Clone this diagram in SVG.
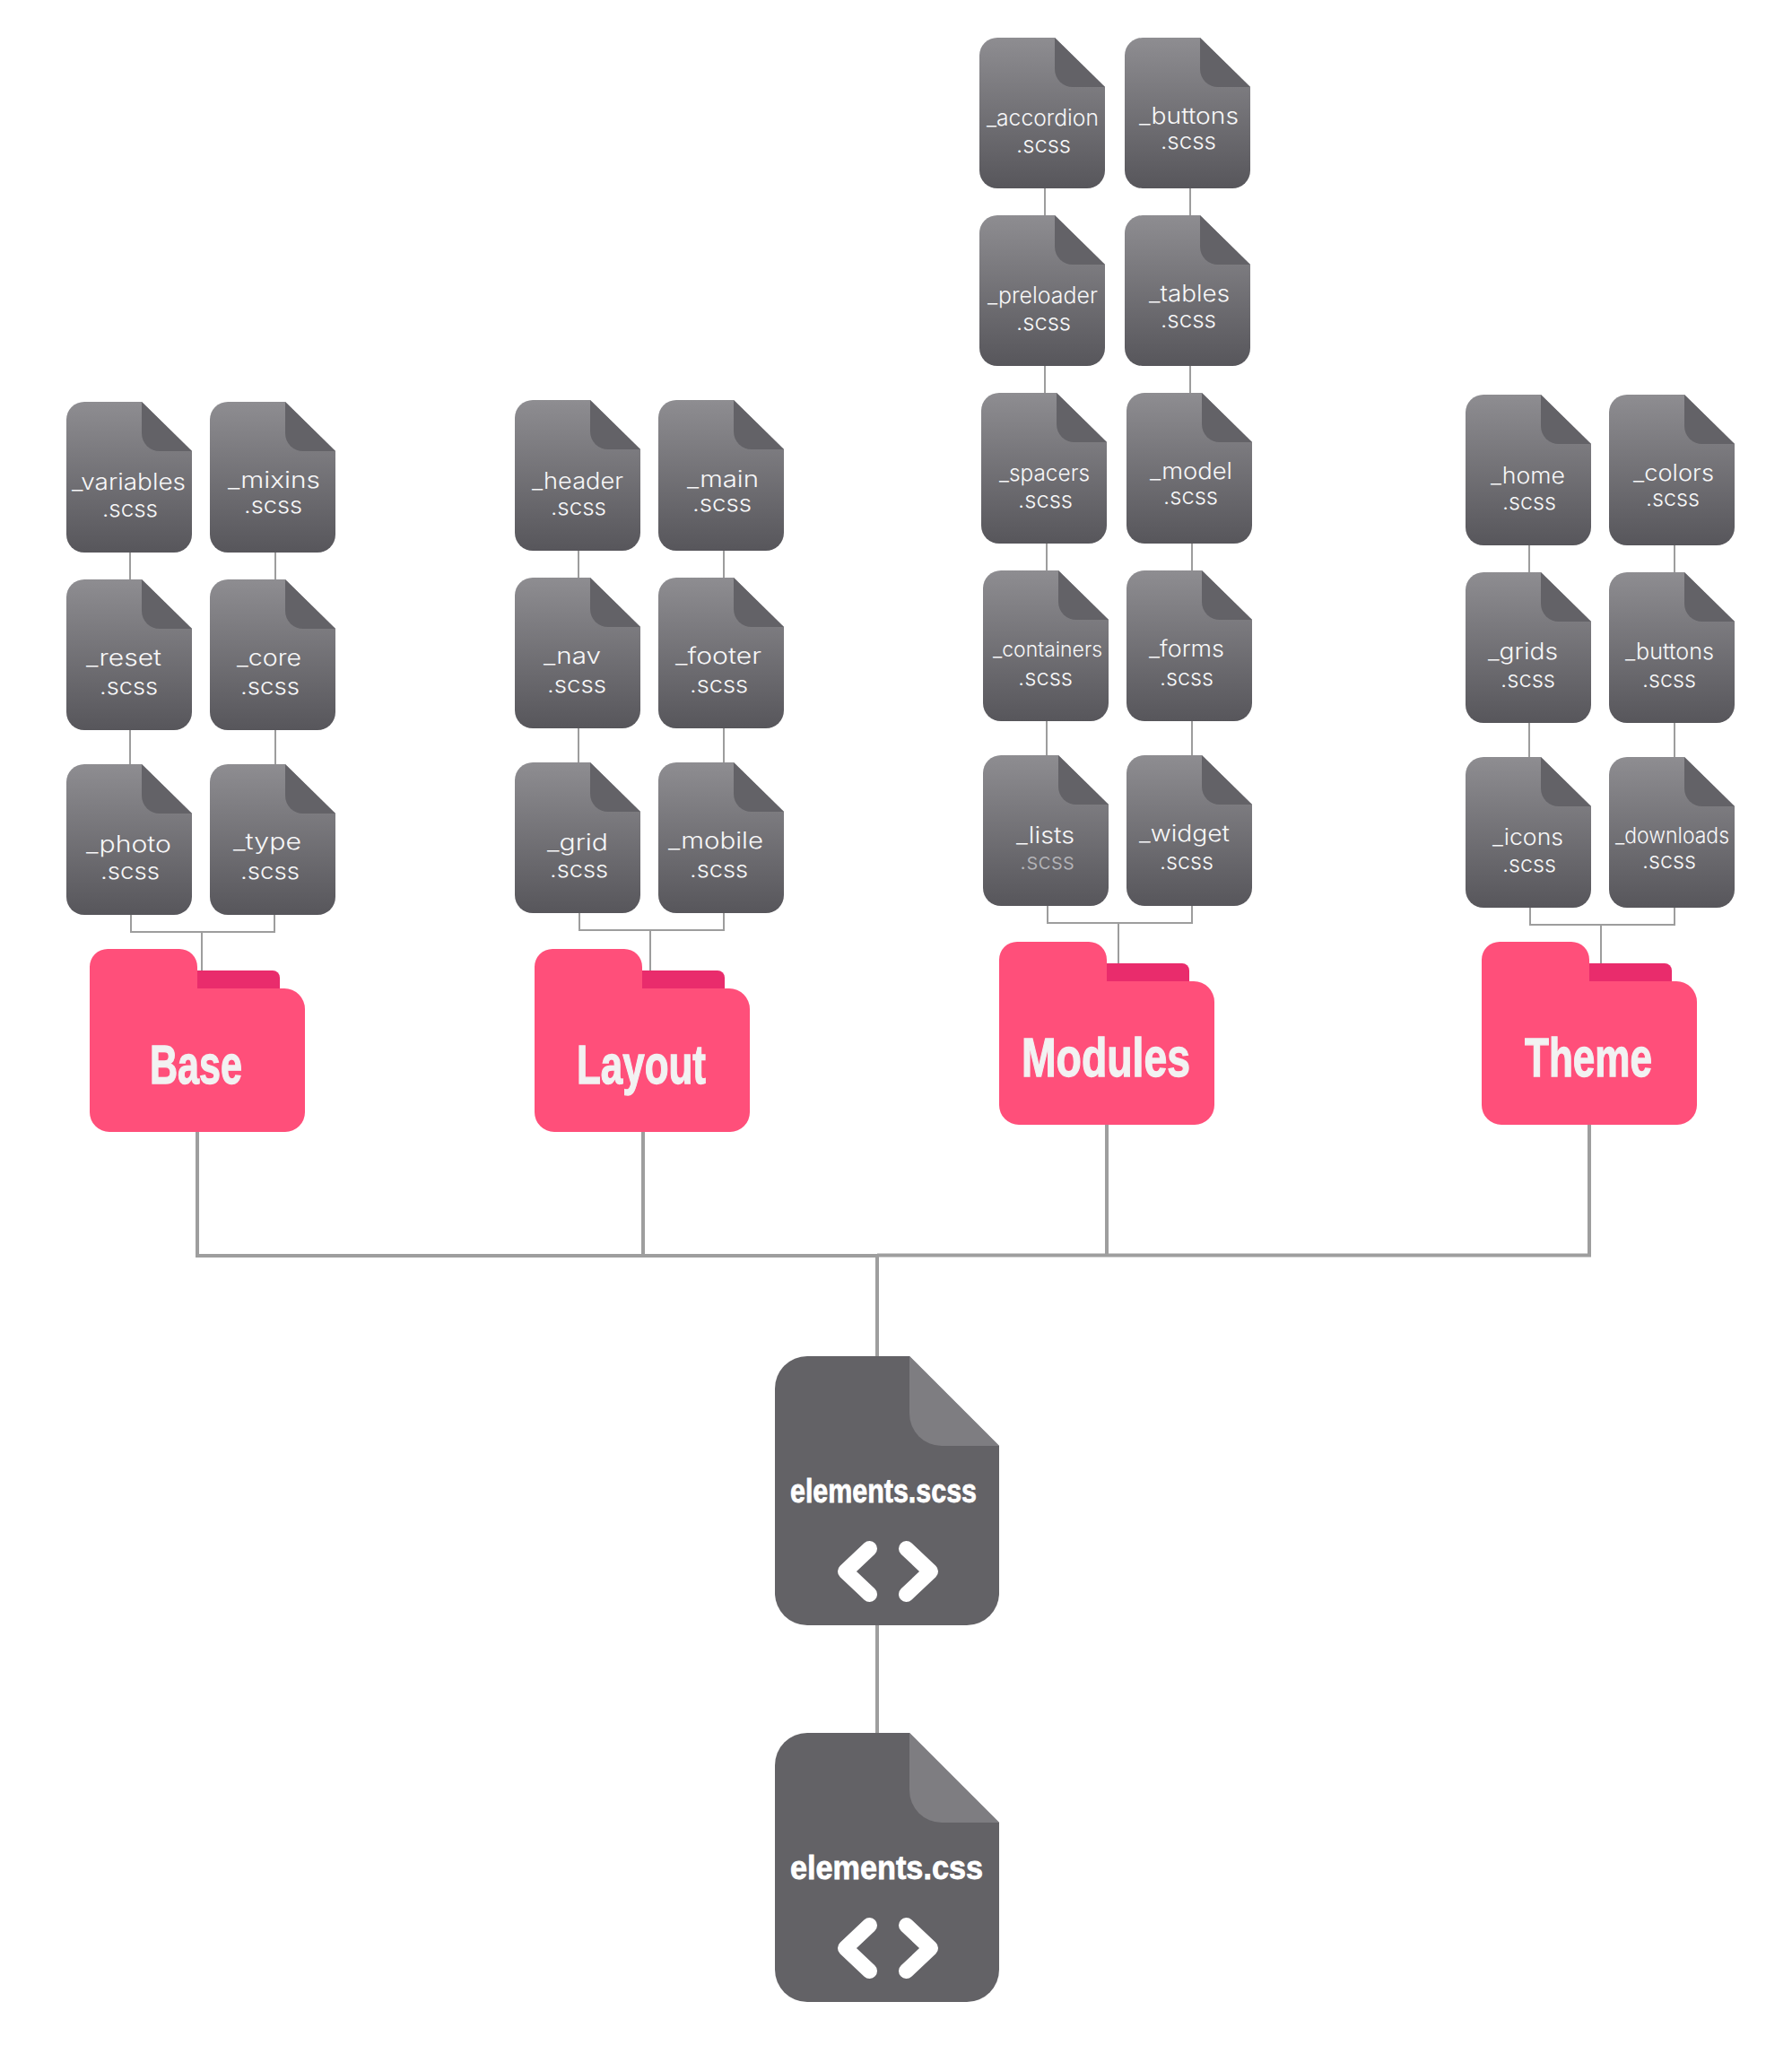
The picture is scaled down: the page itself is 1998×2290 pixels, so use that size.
<svg xmlns="http://www.w3.org/2000/svg" width="1998" height="2290" viewBox="0 0 1998 2290">
<style>
.t{font-family:"Inter","Open Sans","Liberation Sans",sans-serif;font-weight:300;font-size:25px;fill:#f7f7f8}
.dim{fill:#b4b4b8}
.h{font-family:"Liberation Sans",Arial,sans-serif;font-weight:700;fill:#f2f2f2;stroke:#f2f2f2;stroke-width:1.3;font-size:62px}
.b{font-family:"Liberation Sans",Arial,sans-serif;font-weight:700;fill:#fff;stroke:#fff;stroke-width:.8;font-size:37px}
.thin{fill:none;stroke:#9d9d9d;stroke-width:2}
.thick{fill:none;stroke:#9e9e9e;stroke-width:4}
.chev{fill:none;stroke:#fff;stroke-width:17;stroke-linecap:round;stroke-linejoin:round}
</style>
<defs>
<linearGradient id="g" x1="0" y1="0" x2="0" y2="1"><stop offset="0" stop-color="#8e8d91"/><stop offset="1" stop-color="#57565b"/></linearGradient>
<g id="file"><path fill="url(#g)" d="M20 0H84L140 55V148A20 20 0 0 1 120 168H20A20 20 0 0 1 0 148V20A20 20 0 0 1 20 0Z"/><path fill="#636267" d="M84 0L140 55H104A20 20 0 0 1 84 35Z"/></g>
<g id="folder"><path fill="#e92c6c" d="M110 24H204A8 8 0 0 1 212 32V60H110Z"/><path fill="#ff4f7a" d="M20 0H100A20 20 0 0 1 120 20V44H217A23 23 0 0 1 240 67V182A22 22 0 0 1 218 204H22A22 22 0 0 1 0 182V20A20 20 0 0 1 20 0Z"/></g>
<g id="big"><path fill="#636266" d="M36 0H150L250 100V264A36 36 0 0 1 214 300H36A36 36 0 0 1 0 264V36A36 36 0 0 1 36 0Z"/><path fill="#7e7d81" d="M150 0L250 100H186A36 36 0 0 1 150 64Z"/><path class="chev" d="M105.500 214.500L78.500 240L105.500 265.500M146.500 214.500L173.500 240L146.500 265.500"/></g>
</defs>
<rect width="1998" height="2290" fill="#fff"/>
<g id="connectors">
<path class="thin" d="M145 616V646M307 616V646M145 813V852M307 813V852M146 1020V1039H306V1020M225 1039V1084"/>
<path class="thin" d="M645 613V644M807 613V644M645 812V850M807 812V850M646 1018V1037H807V1018M725 1037V1084"/>
<path class="thin" d="M1165 209V240M1327 209V240M1165 408V438M1327 408V438M1167 605V636M1329 605V636M1167 803V842M1329 803V842M1168 1009V1029H1329V1009M1247 1029V1076"/>
<path class="thin" d="M1705 607V638M1867 607V638M1705 805V844M1867 805V844M1706 1011V1031H1867V1011M1785 1031V1076"/>
<path class="thick" d="M220 1262V1400H978M717 1262V1400M978 1399.500H1772V1254M1234 1254V1400M978 1400V1512M978 1812V1932"/>
</g>
<g id="file-variables"><use href="#file" x="74" y="448"/><text class="t" x="80" y="546" textLength="127" lengthAdjust="spacingAndGlyphs">_variables</text><text class="t" x="114" y="576" textLength="62" lengthAdjust="spacingAndGlyphs">.scss</text></g>
<g id="file-mixins"><use href="#file" x="234" y="448"/><text class="t" x="254" y="544" textLength="103" lengthAdjust="spacingAndGlyphs">_mixins</text><text class="t" x="272" y="572" textLength="65" lengthAdjust="spacingAndGlyphs">.scss</text></g>
<g id="file-reset"><use href="#file" x="74" y="646"/><text class="t" x="96" y="742" textLength="84" lengthAdjust="spacingAndGlyphs">_reset</text><text class="t" x="111" y="774" textLength="65" lengthAdjust="spacingAndGlyphs">.scss</text></g>
<g id="file-core"><use href="#file" x="234" y="646"/><text class="t" x="264" y="742" textLength="72" lengthAdjust="spacingAndGlyphs">_core</text><text class="t" x="268" y="774" textLength="66" lengthAdjust="spacingAndGlyphs">.scss</text></g>
<g id="file-photo"><use href="#file" x="74" y="852"/><text class="t" x="96" y="950" textLength="95" lengthAdjust="spacingAndGlyphs">_photo</text><text class="t" x="112" y="980" textLength="66" lengthAdjust="spacingAndGlyphs">.scss</text></g>
<g id="file-type"><use href="#file" x="234" y="852"/><text class="t" x="260" y="947" textLength="76" lengthAdjust="spacingAndGlyphs">_type</text><text class="t" x="268" y="980" textLength="66" lengthAdjust="spacingAndGlyphs">.scss</text></g>
<g id="folder-base"><use href="#folder" x="100" y="1058"/><text class="h" x="167" y="1208" textLength="103" lengthAdjust="spacingAndGlyphs">Base</text></g>

<g id="file-header"><use href="#file" x="574" y="446"/><text class="t" x="593" y="545" textLength="102" lengthAdjust="spacingAndGlyphs">_header</text><text class="t" x="614" y="574" textLength="62" lengthAdjust="spacingAndGlyphs">.scss</text></g>
<g id="file-main"><use href="#file" x="734" y="446"/><text class="t" x="766" y="543" textLength="80" lengthAdjust="spacingAndGlyphs">_main</text><text class="t" x="772" y="570" textLength="66" lengthAdjust="spacingAndGlyphs">.scss</text></g>
<g id="file-nav"><use href="#file" x="574" y="644"/><text class="t" x="606" y="740" textLength="64" lengthAdjust="spacingAndGlyphs">_nav</text><text class="t" x="610" y="772" textLength="66" lengthAdjust="spacingAndGlyphs">.scss</text></g>
<g id="file-footer"><use href="#file" x="734" y="644"/><text class="t" x="753" y="740" textLength="96" lengthAdjust="spacingAndGlyphs">_footer</text><text class="t" x="769" y="772" textLength="65" lengthAdjust="spacingAndGlyphs">.scss</text></g>
<g id="file-grid"><use href="#file" x="574" y="850"/><text class="t" x="610" y="948" textLength="68" lengthAdjust="spacingAndGlyphs">_grid</text><text class="t" x="613" y="978" textLength="65" lengthAdjust="spacingAndGlyphs">.scss</text></g>
<g id="file-mobile"><use href="#file" x="734" y="850"/><text class="t" x="745" y="946" textLength="106" lengthAdjust="spacingAndGlyphs">_mobile</text><text class="t" x="769" y="978" textLength="65" lengthAdjust="spacingAndGlyphs">.scss</text></g>
<g id="folder-layout"><use href="#folder" x="596" y="1058"/><text class="h" x="643" y="1208" textLength="144" lengthAdjust="spacingAndGlyphs">Layout</text></g>

<g id="file-accordion"><use href="#file" x="1092" y="42"/><text class="t" x="1100" y="140" textLength="125" lengthAdjust="spacingAndGlyphs">_accordion</text><text class="t" x="1133" y="170" textLength="61" lengthAdjust="spacingAndGlyphs">.scss</text></g>
<g id="file-buttons"><use href="#file" x="1254" y="42"/><text class="t" x="1270" y="138" textLength="111" lengthAdjust="spacingAndGlyphs">_buttons</text><text class="t" x="1294" y="166" textLength="62" lengthAdjust="spacingAndGlyphs">.scss</text></g>
<g id="file-preloader"><use href="#file" x="1092" y="240"/><text class="t" x="1101" y="338" textLength="123" lengthAdjust="spacingAndGlyphs">_preloader</text><text class="t" x="1133" y="368" textLength="61" lengthAdjust="spacingAndGlyphs">.scss</text></g>
<g id="file-tables"><use href="#file" x="1254" y="240"/><text class="t" x="1281" y="336" textLength="90" lengthAdjust="spacingAndGlyphs">_tables</text><text class="t" x="1294" y="365" textLength="62" lengthAdjust="spacingAndGlyphs">.scss</text></g>
<g id="file-spacers"><use href="#file" x="1094" y="438"/><text class="t" x="1114" y="536" textLength="101" lengthAdjust="spacingAndGlyphs">_spacers</text><text class="t" x="1135" y="566" textLength="61" lengthAdjust="spacingAndGlyphs">.scss</text></g>
<g id="file-model"><use href="#file" x="1256" y="438"/><text class="t" x="1282" y="534" textLength="92" lengthAdjust="spacingAndGlyphs">_model</text><text class="t" x="1297" y="562" textLength="61" lengthAdjust="spacingAndGlyphs">.scss</text></g>
<g id="file-containers"><use href="#file" x="1096" y="636"/><text class="t" x="1107" y="732" textLength="122" lengthAdjust="spacingAndGlyphs" style="font-size:23px">_containers</text><text class="t" x="1135" y="764" textLength="61" lengthAdjust="spacingAndGlyphs">.scss</text></g>
<g id="file-forms"><use href="#file" x="1256" y="636"/><text class="t" x="1281" y="732" textLength="84" lengthAdjust="spacingAndGlyphs">_forms</text><text class="t" x="1293" y="764" textLength="60" lengthAdjust="spacingAndGlyphs">.scss</text></g>
<g id="file-lists"><use href="#file" x="1096" y="842"/><text class="t" x="1133" y="940" textLength="65" lengthAdjust="spacingAndGlyphs">_lists</text><text class="t dim" x="1137" y="969" textLength="61" lengthAdjust="spacingAndGlyphs">.scss</text></g>
<g id="file-widget"><use href="#file" x="1256" y="842"/><text class="t" x="1270" y="938" textLength="101" lengthAdjust="spacingAndGlyphs">_widget</text><text class="t" x="1293" y="969" textLength="60" lengthAdjust="spacingAndGlyphs">.scss</text></g>
<g id="folder-modules"><use href="#folder" x="1114" y="1050"/><text class="h" x="1139" y="1200" textLength="188" lengthAdjust="spacingAndGlyphs">Modules</text></g>

<g id="file-home"><use href="#file" x="1634" y="440"/><text class="t" x="1662" y="539" textLength="83" lengthAdjust="spacingAndGlyphs">_home</text><text class="t" x="1675" y="568" textLength="60" lengthAdjust="spacingAndGlyphs">.scss</text></g>
<g id="file-colors"><use href="#file" x="1794" y="440"/><text class="t" x="1821" y="536" textLength="90" lengthAdjust="spacingAndGlyphs">_colors</text><text class="t" x="1835" y="564" textLength="60" lengthAdjust="spacingAndGlyphs">.scss</text></g>
<g id="file-grids"><use href="#file" x="1634" y="638"/><text class="t" x="1659" y="735" textLength="78" lengthAdjust="spacingAndGlyphs">_grids</text><text class="t" x="1673" y="766" textLength="61" lengthAdjust="spacingAndGlyphs">.scss</text></g>
<g id="file-buttons-theme"><use href="#file" x="1794" y="638"/><text class="t" x="1812" y="735" textLength="99" lengthAdjust="spacingAndGlyphs">_buttons</text><text class="t" x="1831" y="766" textLength="60" lengthAdjust="spacingAndGlyphs">.scss</text></g>
<g id="file-icons"><use href="#file" x="1634" y="844"/><text class="t" x="1664" y="942" textLength="79" lengthAdjust="spacingAndGlyphs">_icons</text><text class="t" x="1675" y="972" textLength="60" lengthAdjust="spacingAndGlyphs">.scss</text></g>
<g id="file-downloads"><use href="#file" x="1794" y="844"/><text class="t" x="1801" y="940" textLength="127" lengthAdjust="spacingAndGlyphs" style="font-size:24px">_downloads</text><text class="t" x="1831" y="968" textLength="60" lengthAdjust="spacingAndGlyphs">.scss</text></g>
<g id="folder-theme"><use href="#folder" x="1652" y="1050"/><text class="h" x="1700" y="1200" textLength="142" lengthAdjust="spacingAndGlyphs">Theme</text></g>

<g id="file-elements-scss"><use href="#big" x="864" y="1512"/><text class="b" x="881" y="1675" textLength="208" lengthAdjust="spacingAndGlyphs">elements.scss</text></g>
<g id="file-elements-css"><use href="#big" x="864" y="1932"/><text class="b" x="881" y="2095" textLength="215" lengthAdjust="spacingAndGlyphs">elements.css</text></g>
</svg>
